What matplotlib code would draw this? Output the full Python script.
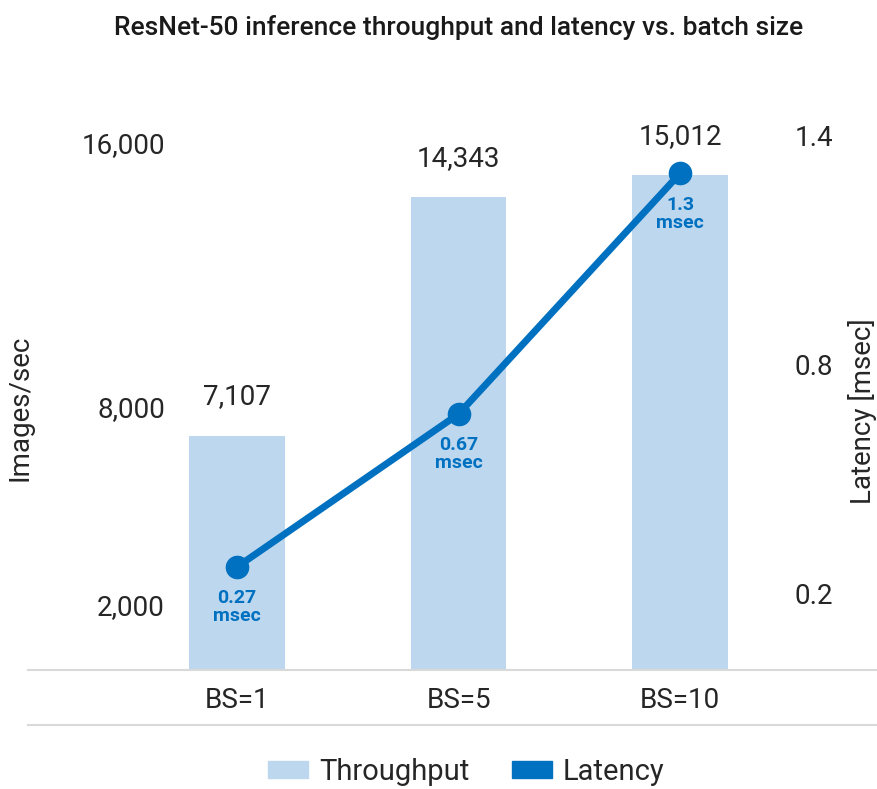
import matplotlib
matplotlib.use("Agg")
import matplotlib.pyplot as plt
from matplotlib.patches import Patch
import numpy as np

categories = ["BS=1", "BS=5", "BS=10"]
throughput = [7107, 14343, 15012]
latency = [0.27, 0.67, 1.3]
throughput_labels = ["7,107", "14,343", "15,012"]
latency_labels = ["0.27\nmsec", "0.67\nmsec", "1.3\nmsec"]
left_ticks = [2000, 8000, 16000]
left_tick_labels = ["2,000", "8,000", "16,000"]
right_ticks = [0.2, 0.8, 1.4]
right_tick_labels = ["0.2", "0.8", "1.4"]

plt.rcParams['font.family'] = ['Roboto', 'DejaVu Sans']
BAR = "#BDD7EE"
LINE = "#0070C0"
TXT = "#262626"
GRID = "#D9D9D9"

W, H = 877, 789
fig = plt.figure(figsize=(W / 100, H / 100), dpi=100)
ax_l, ax_r_px, ax_b, ax_t = 28, 877, 670, 100
AW = ax_r_px - ax_l
ax = fig.add_axes([ax_l / W, 1 - ax_b / H, AW / W, (ax_b - ax_t) / H])
ax2 = ax.twinx()

x = np.arange(len(categories))
ax.bar(x, throughput, width=0.43, color=BAR, zorder=1)
ax.set_xlim(-0.944, 2.889)
ax.set_ylim(0, 17300)
ax2.set_ylim(0, 1.492)

ax2.plot(x, latency, color=LINE, lw=5, marker='o', ms=16, zorder=3,
         solid_capstyle='round')

for xi, v, lab in zip(x, throughput, throughput_labels):
    ax.annotate(lab, (xi, v), xytext=(0, 28), textcoords='offset points',
                ha='center', va='center', fontsize=20, color=TXT)
for xi, v, lab in zip(x, latency, latency_labels):
    ax2.annotate(lab, (xi, v), xytext=(0, -29), textcoords='offset points',
                 ha='center', va='center', fontsize=14, color=LINE,
                 fontweight='bold', linespacing=1.0)

for a in (ax, ax2):
    for s in a.spines.values():
        s.set_visible(False)
ax.spines['bottom'].set_visible(True)
ax.spines['bottom'].set_color(GRID)
ax.spines['bottom'].set_linewidth(1.5)
ax.plot([0, 1], [-55 / 570, -55 / 570], transform=ax.transAxes, color=GRID,
        lw=1.5, clip_on=False)

ax.set_xticks(x)
ax.set_xticklabels(categories, fontsize=20, color=TXT)
ax.tick_params(axis='x', length=0, pad=12)

ax.set_yticks(left_ticks)
ax.set_yticklabels(left_tick_labels, fontsize=20, color=TXT)
ax.tick_params(axis='y', length=0, pad=-137 * 0.72)

ax2.set_yticks(right_ticks)
ax2.set_yticklabels(right_tick_labels, fontsize=20, color=TXT)
ax2.tick_params(axis='y', length=0, pad=-82 * 0.72)

ax.set_ylabel("Images/sec", fontsize=20, color=TXT)
ax.yaxis.set_label_coords(6 / AW, 0.46)
ax2.set_ylabel("Latency [msec]", fontsize=20, color=TXT, rotation=90)
ax2.yaxis.set_label_coords((848 - ax_l) / AW, 0.455)

fig.text(459 / W, 1 - 28 / H, "ResNet-50 inference throughput and latency vs. batch size",
         ha='center', va='center', fontsize=19, fontweight='medium', color="#1a1a1a")

handles = [Patch(color=BAR, label="Throughput"), Patch(color=LINE, label="Latency")]
fig.legend(handles=handles, loc='center', bbox_to_anchor=(466 / W, 1 - 772 / H), ncol=2,
           frameon=False, fontsize=21, handlelength=1.4, handleheight=0.5,
           handletextpad=0.36, columnspacing=1.45, labelcolor=TXT)

fig.savefig("out.png", dpi=100)
